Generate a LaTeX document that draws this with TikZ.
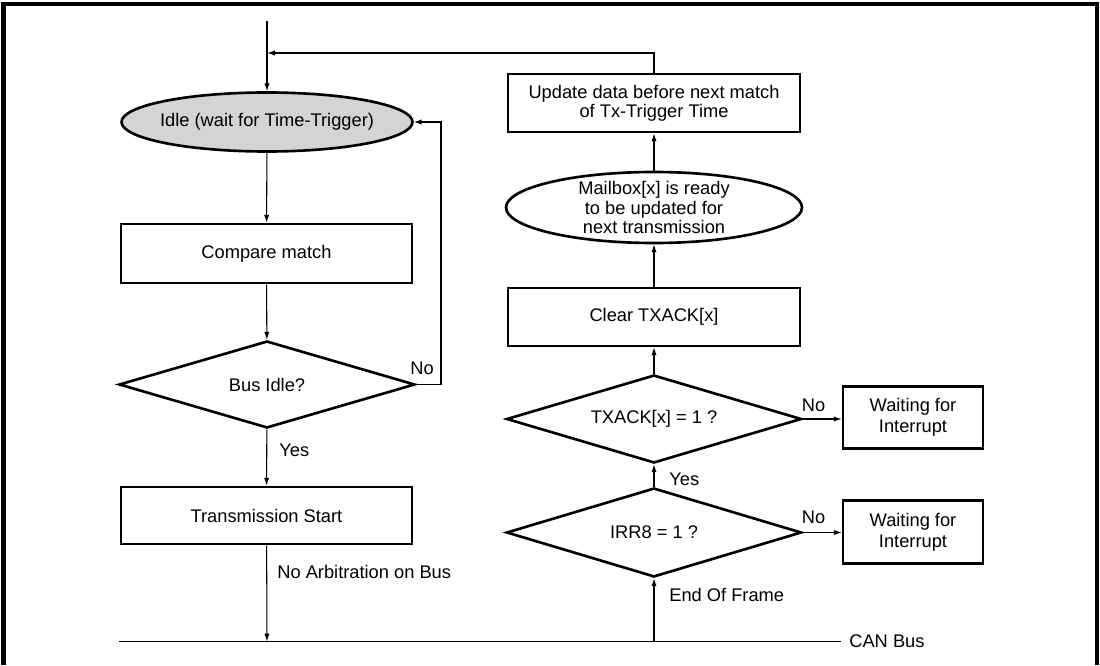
\documentclass[tikz,border=0pt]{standalone}
\usepackage{fontspec}
\setmainfont{Liberation Sans}
\usetikzlibrary{shapes.geometric,arrows.meta}

\begin{document}
\begin{tikzpicture}[
    x=1cm,y=1cm,
    every node/.style={font=\fontsize{10.4}{10.9}\selectfont},
    frame/.style={draw=black, line width=1.5pt},
    procbox/.style={frame, rectangle, minimum width=5.84cm, minimum height=1.16cm, align=center, inner sep=0pt},
    waitbox/.style={frame, rectangle, minimum width=2.8cm, minimum height=1.25cm, align=center, inner sep=0pt, font=\fontsize{10.4}{12.2}\selectfont},
    statebox/.style={frame, ellipse, minimum width=5.92cm, inner sep=0pt},
    testbox/.style={frame, diamond, aspect=3.35, minimum width=5.9cm, minimum height=1.76cm, inner sep=0pt},
    flow/.style={-{Latex[length=4.5pt,width=3pt]}, line width=0.6pt},
    bus/.style={line width=1.1pt},
    lbl/.style={inner sep=0pt, anchor=west}
]
    \useasboundingbox (0,0) rectangle (22,13.3);
    % outer frame, open at the bottom
    \draw[line width=2.3pt] (0.07,0) -- (0.07,13.22) -- (21.94,13.22) -- (21.94,0);

    % transmit side
    \coordinate (entry) at (5.34,12.88);
    \coordinate (join) at (5.34,12.24);
    \node[statebox, fill=black!17, minimum width=5.82cm, minimum height=1.18cm] (idle) at (5.34,10.86) {};
    \node (idletxt) at (idle) {Idle (wait for Time-Trigger)};
    \node[procbox, minimum width=5.82cm, minimum height=1.18cm] (cmp) at (5.33,8.23) {Compare match};
    \node[testbox, minimum width=5.92cm, minimum height=1.74cm] (busidle) at (5.34,5.61) {Bus Idle?};
    \node[procbox, minimum width=5.82cm, minimum height=1.14cm] (txstart) at (5.33,2.99) {Transmission Start};
    \coordinate (noturn) at (8.82,5.61);
    \coordinate (txbus) at (5.34,0.47);

    % acknowledge side
    \node[procbox] (update) at (13.08,11.24) {Update data before next match\\of Tx-Trigger Time};
    \node[statebox, minimum height=1.42cm] (mailbox) at (13.08,9.15) {};
    \node[align=center] (mailboxtxt) at (mailbox) {Mailbox[x] is ready\\to be updated for\\next transmission};
    \node[procbox] (clear) at (13.08,6.96) {Clear TXACK[x]};
    \node[testbox] (txack) at (13.08,4.92) {TXACK[x] = 1 ?};
    \node[testbox, minimum height=1.78cm] (irr) at (13.08,2.65) {IRR8 = 1 ?};
    \node[waitbox] (wait1) at (18.26,4.95) {Waiting for\\Interrupt};
    \node[waitbox] (wait2) at (18.26,2.66) {Waiting for\\Interrupt};
    \coordinate (rxbus) at (13.08,0.47);

    % CAN bus
    \coordinate (busL) at (2.38,0.47);
    \coordinate (busR) at (16.82,0.47);
    \draw[bus] (busL) -- (busR);
    \node[lbl] (canbus) at (16.98,0.47) {CAN Bus};

    \draw[flow] (entry) -- (idle);
    \draw[flow] (update.north) |- (join);
    \draw[flow] (idle) -- (cmp);
    \draw[flow] (cmp) -- (busidle);
    \draw[flow] (busidle) -- (txstart);
    \draw[flow] (txstart) -- (txbus);
    \draw[flow] (busidle.east) -- (noturn) |- (idle.east);

    \draw[flow] (rxbus) -- (irr);
    \draw[flow] (irr) -- (txack);
    \draw[flow] (txack) -- (clear);
    \draw[flow] (clear) -- (mailbox);
    \draw[flow] (mailbox) -- (update);
    \draw[flow] (txack.east) -- (txack.east -| wait1.west);
    \draw[flow] (irr.east) -- (irr.east -| wait2.west);

    \node[lbl] (noL) at (8.2,5.94) {No};
    \node[lbl] (yesL) at (5.58,4.3) {Yes};
    \node[lbl] (noarb) at (5.54,1.86) {No Arbitration on Bus};
    \node[lbl] (yesR) at (13.38,3.72) {Yes};
    \node[lbl] (eof) at (13.38,1.4) {End Of Frame};
    \node[lbl] (noR1) at (16.03,5.2) {No};
    \node[lbl] (noR2) at (16.03,2.96) {No};
\end{tikzpicture}
\end{document}
